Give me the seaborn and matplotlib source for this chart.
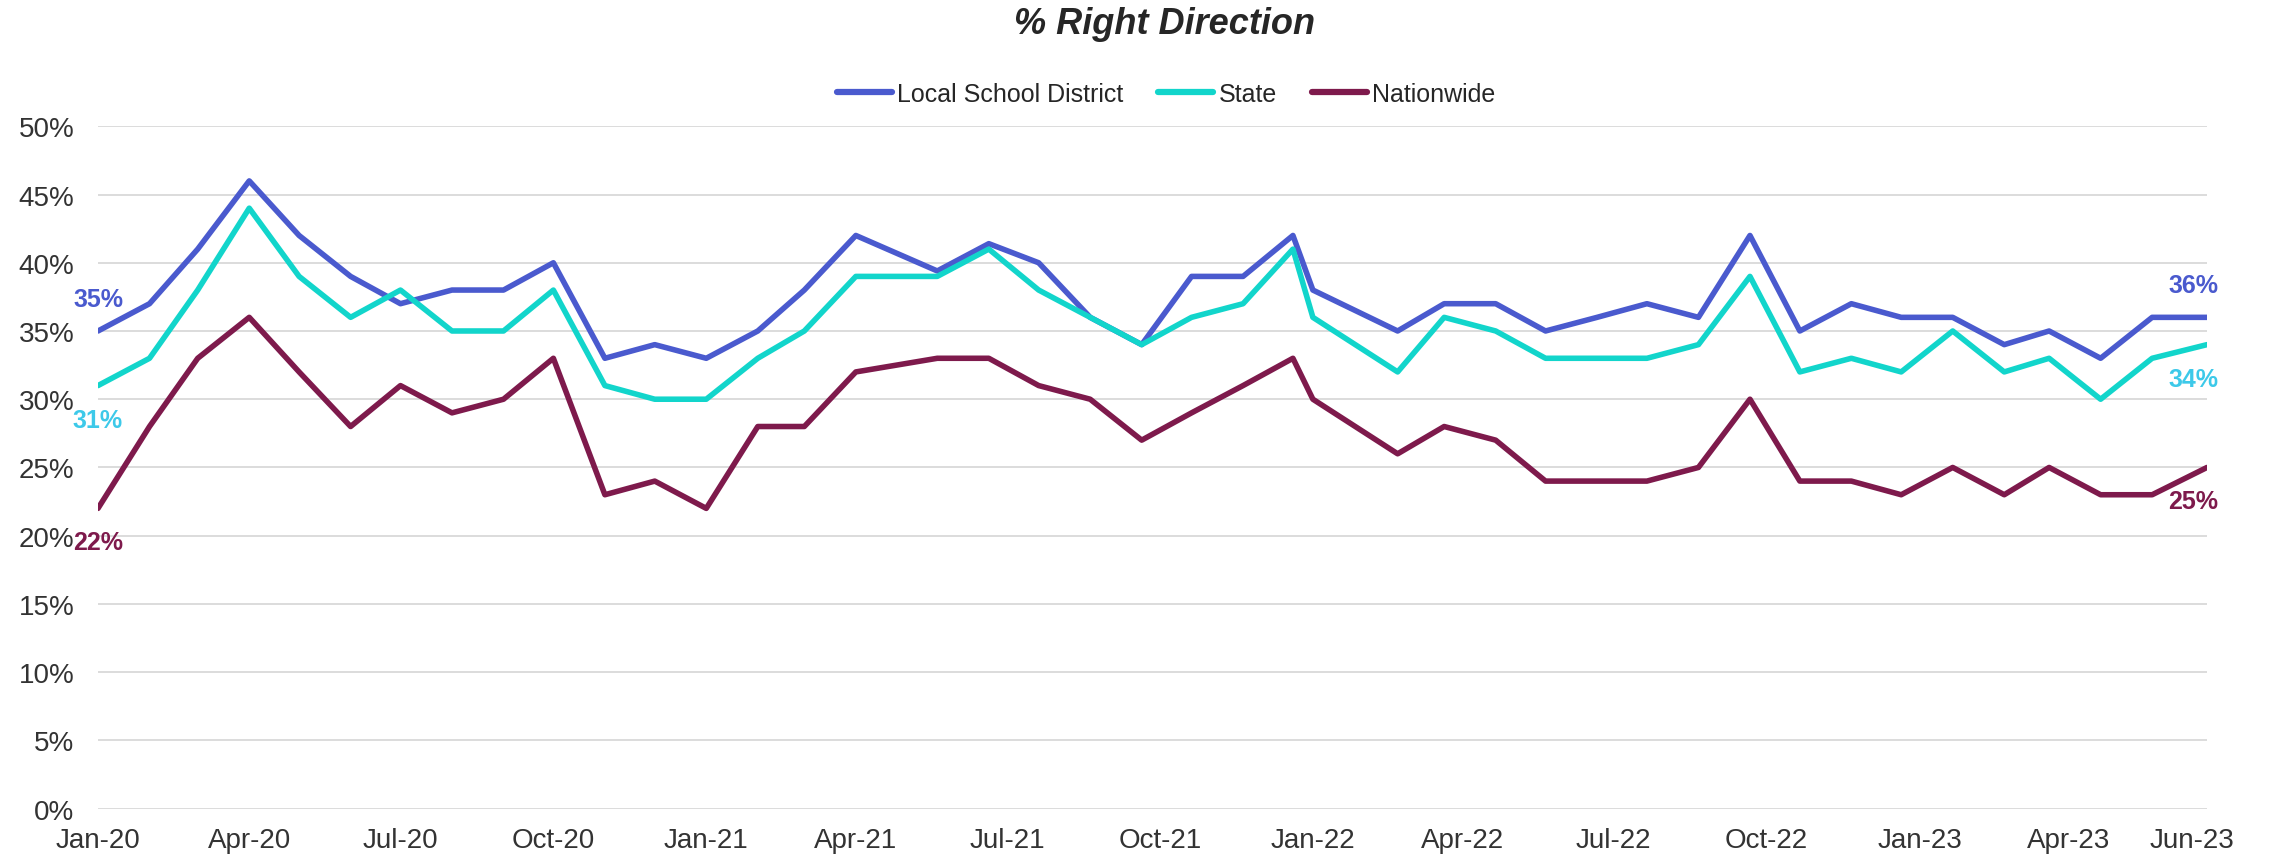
import pandas as pd
import matplotlib
matplotlib.use('Agg')
import matplotlib.pyplot as plt
from matplotlib.lines import Line2D
import seaborn as sns

# survey dates (date axis, points are not evenly spaced)
dates = ['2020-01-01', '2020-02-01', '2020-03-01', '2020-04-01', '2020-05-01', '2020-06-01',
         '2020-07-01', '2020-08-01', '2020-09-01', '2020-10-01', '2020-11-01', '2020-12-01',
         '2021-01-01', '2021-02-01', '2021-03-01', '2021-04-01', '2021-05-20', '2021-06-20',
         '2021-07-20', '2021-08-20', '2021-09-20', '2021-10-20', '2021-11-20', '2021-12-20',
         '2022-01-01', '2022-02-21', '2022-03-21', '2022-04-21', '2022-05-21', '2022-06-21',
         '2022-07-21', '2022-08-21', '2022-09-21', '2022-10-21', '2022-11-21', '2022-12-21',
         '2023-01-21', '2023-02-21', '2023-03-20', '2023-04-20', '2023-05-21', '2023-06-23']

local_school = [35, 37, 41, 46, 42, 39, 37, 38, 38, 40, 33, 34,
                33, 35, 38, 42, 39.4, 41.4, 40, 36, 34, 39, 39, 42,
                38, 35, 37, 37, 35, 36, 37, 36, 42, 35, 37, 36,
                36, 34, 35, 33, 36, 36]
state = [31, 33, 38, 44, 39, 36, 38, 35, 35, 38, 31, 30,
         30, 33, 35, 39, 39, 41, 38, 36, 34, 36, 37, 41,
         36, 32, 36, 35, 33, 33, 33, 34, 39, 32, 33, 32,
         35, 32, 33, 30, 33, 34]
nationwide = [22, 28, 33, 36, 32, 28, 31, 29, 30, 33, 23, 24,
              22, 28, 28, 32, 33, 33, 31, 30, 27, 29, 31, 33,
              30, 26, 28, 27, 24, 24, 24, 25, 30, 24, 24, 23,
              25, 23, 25, 23, 23, 25]

series_names = ['Local School District', 'State', 'Nationwide']
colors = {'Local School District': '#4A5ACE', 'State': '#12D5CB', 'Nationwide': '#7E1A4C'}
label_colors = {'Local School District': '#4A5ACE', 'State': '#3DC9E9', 'Nationwide': '#7E1A4C'}

tick_dates = ['2020-01-01', '2020-04-01', '2020-07-01', '2020-10-01', '2021-01-01', '2021-04-01',
              '2021-07-01', '2021-10-01', '2022-01-01', '2022-04-01', '2022-07-01', '2022-10-01',
              '2023-01-01', '2023-04-01', '2023-06-14']
tick_labels = ['Jan-20', 'Apr-20', 'Jul-20', 'Oct-20', 'Jan-21', 'Apr-21', 'Jul-21', 'Oct-21',
               'Jan-22', 'Apr-22', 'Jul-22', 'Oct-22', 'Jan-23', 'Apr-23', 'Jun-23']

# long format for seaborn
df = pd.DataFrame({'date': pd.to_datetime(dates),
                   'Local School District': local_school,
                   'State': state,
                   'Nationwide': nationwide})
df_long = df.melt(id_vars='date', var_name='series', value_name='pct')

sns.set_theme(style='white')
plt.rcParams['font.family'] = ['Liberation Sans', 'DejaVu Sans']

W, H = 2270, 862
fig = plt.figure(figsize=(W / 100, H / 100), dpi=100)
ax = fig.add_axes([98 / W, 1 - 809.6 / H, (2207 - 98) / W, (809.6 - 127.3) / H])

sns.lineplot(data=df_long, x='date', y='pct', hue='series', hue_order=series_names,
             palette=colors, linewidth=4.0, ax=ax, legend=False)

# axes styling
ax.set_ylim(0, 50)
ax.set_yticks(range(0, 51, 5))
ax.set_yticklabels([f'{v}%' for v in range(0, 51, 5)])
ax.set_xlim(df['date'].iloc[0], df['date'].iloc[-1])
ax.set_xticks(pd.to_datetime(tick_dates))
ax.set_xticklabels(tick_labels)
ax.set_xlabel('')
ax.set_ylabel('')
ax.yaxis.grid(True, color='#D9D9D9', linewidth=1.3)
ax.xaxis.grid(False)
ax.set_axisbelow(True)
for s in ax.spines.values():
    s.set_visible(False)
ax.tick_params(axis='y', length=0, pad=17, labelsize=20, labelcolor='#333333')
ax.tick_params(axis='x', length=0, pad=13, labelsize=20, labelcolor='#333333')

# first / last data labels
first_vals = {'Local School District': local_school[0], 'State': state[0], 'Nationwide': nationwide[0]}
last_vals = {'Local School District': local_school[-1], 'State': state[-1], 'Nationwide': nationwide[-1]}
offsets = {'Local School District': 23, 'State': -24.5, 'Nationwide': -24.5}
d0, d1 = df['date'].iloc[0], df['date'].iloc[-1]
for name in series_names:
    ax.annotate(f'{first_vals[name]:.0f}%', (d0, first_vals[name]), xytext=(0, offsets[name]),
                textcoords='offset points', ha='center', va='center', fontsize=18,
                fontweight='bold', color=label_colors[name], annotation_clip=False)
    ax.annotate(f'{last_vals[name]:.0f}%', (d1, last_vals[name]), xytext=(-10, offsets[name]),
                textcoords='offset points', ha='center', va='center', fontsize=18,
                fontweight='bold', color=label_colors[name], annotation_clip=False)

# title and legend
fig.text(1165 / W, 1 - 25 / H, '% Right Direction', ha='center', va='center',
         fontsize=26, fontweight='bold', fontstyle='italic', color='#262626')
handles = [Line2D([0], [0], color=colors[n], lw=4.5, solid_capstyle='round') for n in series_names]
fig.legend(handles, series_names, loc='center', bbox_to_anchor=(1166 / W, 1 - 95 / H), ncol=3,
           frameon=False, fontsize=18, handlelength=2.2, handletextpad=0.2, columnspacing=1.4,
           labelcolor='#262626')

fig.savefig('out.png', dpi=100)
